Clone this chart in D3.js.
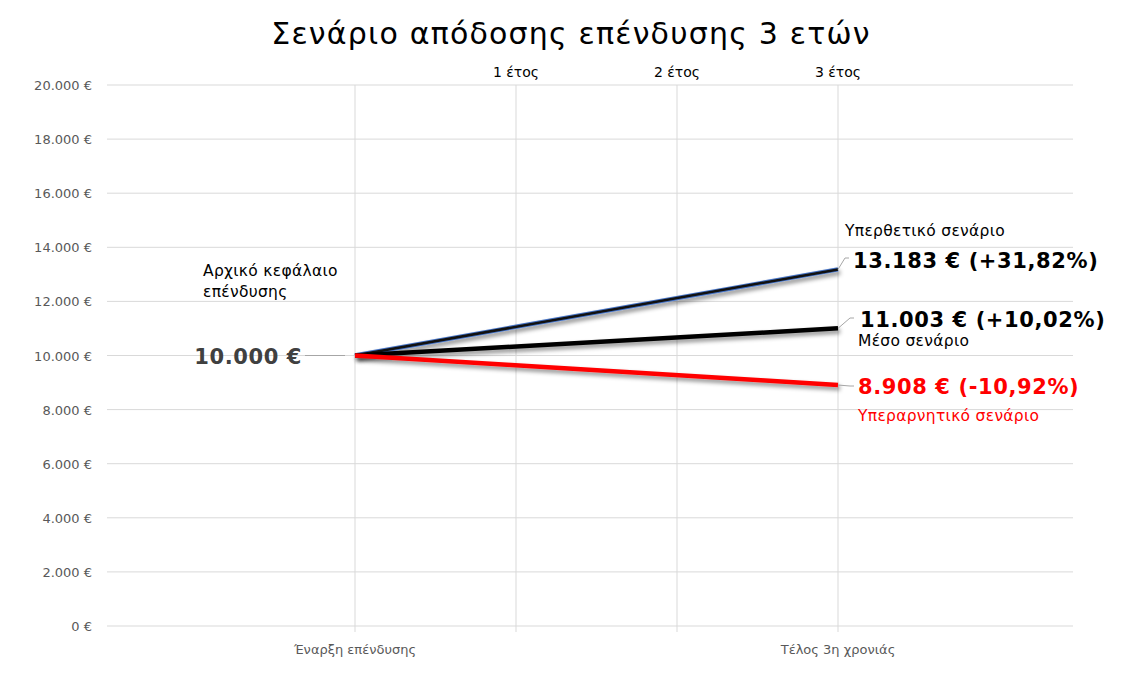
<!DOCTYPE html>
<html><head><meta charset="utf-8">
<script src="https://cdn.jsdelivr.net/npm/d3@7"></script>
<style>body{margin:0;background:#fff;font-family:"DejaVu Sans",Verdana,sans-serif}</style>
</head><body><div id="chart"></div>
<script>
var categories = ["Έναρξη επένδυσης", "Τέλος 3η χρονιάς"];
var yearTicks = [1, 2, 3];
var yTicks = [0, 2000, 4000, 6000, 8000, 10000, 12000, 14000, 16000, 18000, 20000];
var bestCase = [10000, 13183];
var midCase = [10000, 11003];
var worstCase = [10000, 8908];
var pctLabels = ["+31,82%", "+10,02%", "-10,92%"];

var width = 1145, height = 684;
var plotLeft = 107, plotRight = 1073, plotTop = 85, plotBottom = 626;

var svg = d3.select("#chart").append("svg").attr("width", width).attr("height", height);

var y = d3.scaleLinear().domain([0, 20000]).range([plotBottom, plotTop]);
// category positions
var x = d3.scalePoint().domain(categories).range([355, 838]);
// year axis on top (0 = start, 3 = end)
var xYear = d3.scaleLinear().domain([0, 3]).range([355, 838]);

var fmt = function (v) { return d3.format(",")(v).replace(/,/g, ".") + " €"; };

// horizontal gridlines
svg.append("g").selectAll("line").data(yTicks).enter().append("line")
  .attr("x1", plotLeft).attr("x2", plotRight)
  .attr("y1", function (d) { return y(d); }).attr("y2", function (d) { return y(d); })
  .attr("stroke", "#d9d9d9");

// vertical gridlines
svg.append("g").selectAll("line").data([0].concat(yearTicks)).enter().append("line")
  .attr("x1", function (d) { return xYear(d); }).attr("x2", function (d) { return xYear(d); })
  .attr("y1", plotTop).attr("y2", plotBottom + 6)
  .attr("stroke", "#d9d9d9");

// y labels
svg.append("g").selectAll("text").data(yTicks).enter().append("text")
  .attr("x", 92).attr("y", function (d) { return y(d) + 5; })
  .attr("text-anchor", "end").attr("fill", "#595959").style("font-size", "13px")
  .text(fmt);

// bottom category labels
svg.append("g").selectAll("text").data(categories).enter().append("text")
  .attr("x", function (d) { return x(d); }).attr("y", 654)
  .attr("text-anchor", "middle").attr("fill", "#595959").style("font-size", "13px")
  .text(function (d) { return d; });

// top year labels
svg.append("g").selectAll("text").data(yearTicks).enter().append("text")
  .attr("x", function (d) { return xYear(d); }).attr("y", 77)
  .attr("text-anchor", "middle").attr("fill", "#000").style("font-size", "14px")
  .text(function (d) { return d + " έτος"; });

// title
svg.append("text").attr("x", 571).attr("y", 44).attr("text-anchor", "middle")
  .style("font-size", "30px").style("letter-spacing", "1.2px").text("Σενάριο απόδοσης επένδυσης 3 ετών");

// shadow filter
var defs = svg.append("defs");
var f = defs.append("filter").attr("id", "sh").attr("x", "-10%").attr("y", "-50%").attr("width", "120%").attr("height", "200%");
f.append("feDropShadow").attr("dx", 2).attr("dy", 3).attr("stdDeviation", 2).attr("flood-color", "#000").attr("flood-opacity", 0.45);

var line = d3.line().x(function (d, i) { return x(categories[i]); }).y(function (d) { return y(d); });

svg.append("path").datum(bestCase).attr("d", line).attr("fill", "none")
  .attr("stroke", "#4472c4").attr("stroke-width", 4.5).attr("filter", "url(#sh)");
svg.append("path").datum(bestCase).attr("d", line).attr("fill", "none")
  .attr("stroke", "#111").attr("stroke-width", 2.5);
svg.append("path").datum(midCase).attr("d", line).attr("fill", "none")
  .attr("stroke", "#000").attr("stroke-width", 4.5).attr("filter", "url(#sh)");
svg.append("path").datum(worstCase).attr("d", line).attr("fill", "none")
  .attr("stroke", "#ff0000").attr("stroke-width", 4.5).attr("filter", "url(#sh)");

function leader(x1, y1, x2, y2) {
  svg.append("path").attr("d", "M" + x1 + "," + y1 + "L" + (x2 - 4) + "," + y2 + "L" + x2 + "," + y2)
    .attr("fill", "none").attr("stroke", "#a6a6a6").attr("stroke-width", 1);
}
function big(xp, yp, txt, color) {
  return svg.append("text").attr("x", xp).attr("y", yp).attr("fill", color || "#000")
    .style("font-size", "21px").style("font-weight", "bold").style("letter-spacing", "0.6px").text(txt);
}
var xe = x(categories[1]);

// start label
leader(305, y(10000), 345, y(10000));
big(302, y(10000) + 8, fmt(bestCase[0]), "#404040").attr("text-anchor", "end");
svg.append("text").attr("x", 203).attr("y", 276).style("font-size", "15.5px").style("letter-spacing", "0.3px").text("Αρχικό κεφάλαιο");
svg.append("text").attr("x", 203).attr("y", 297).style("font-size", "15.5px").style("letter-spacing", "0.3px").text("επένδυσης");

// best
leader(xe, y(bestCase[1]), 849, 258);
big(853, 268, fmt(bestCase[1]) + " (" + pctLabels[0] + ")");
svg.append("text").attr("x", 845).attr("y", 236).style("font-size", "15.5px").style("letter-spacing", "0.3px").text("Υπερθετικό σενάριο");

// mid
leader(xe, y(midCase[1]), 854, 318);
big(860, 327, fmt(midCase[1]) + " (" + pctLabels[1] + ")");
svg.append("text").attr("x", 858).attr("y", 346).style("font-size", "15.5px").style("letter-spacing", "0.3px").text("Μέσο σενάριο");

// worst
leader(xe, y(worstCase[1]), 854, 386);
big(858, 394, fmt(worstCase[1]) + " (" + pctLabels[2] + ")", "#ff0000");
svg.append("text").attr("x", 858).attr("y", 421).attr("fill", "#ff0000").style("font-size", "15.5px").style("letter-spacing", "0.3px").text("Υπεραρνητικό σενάριο");
</script></body></html>
